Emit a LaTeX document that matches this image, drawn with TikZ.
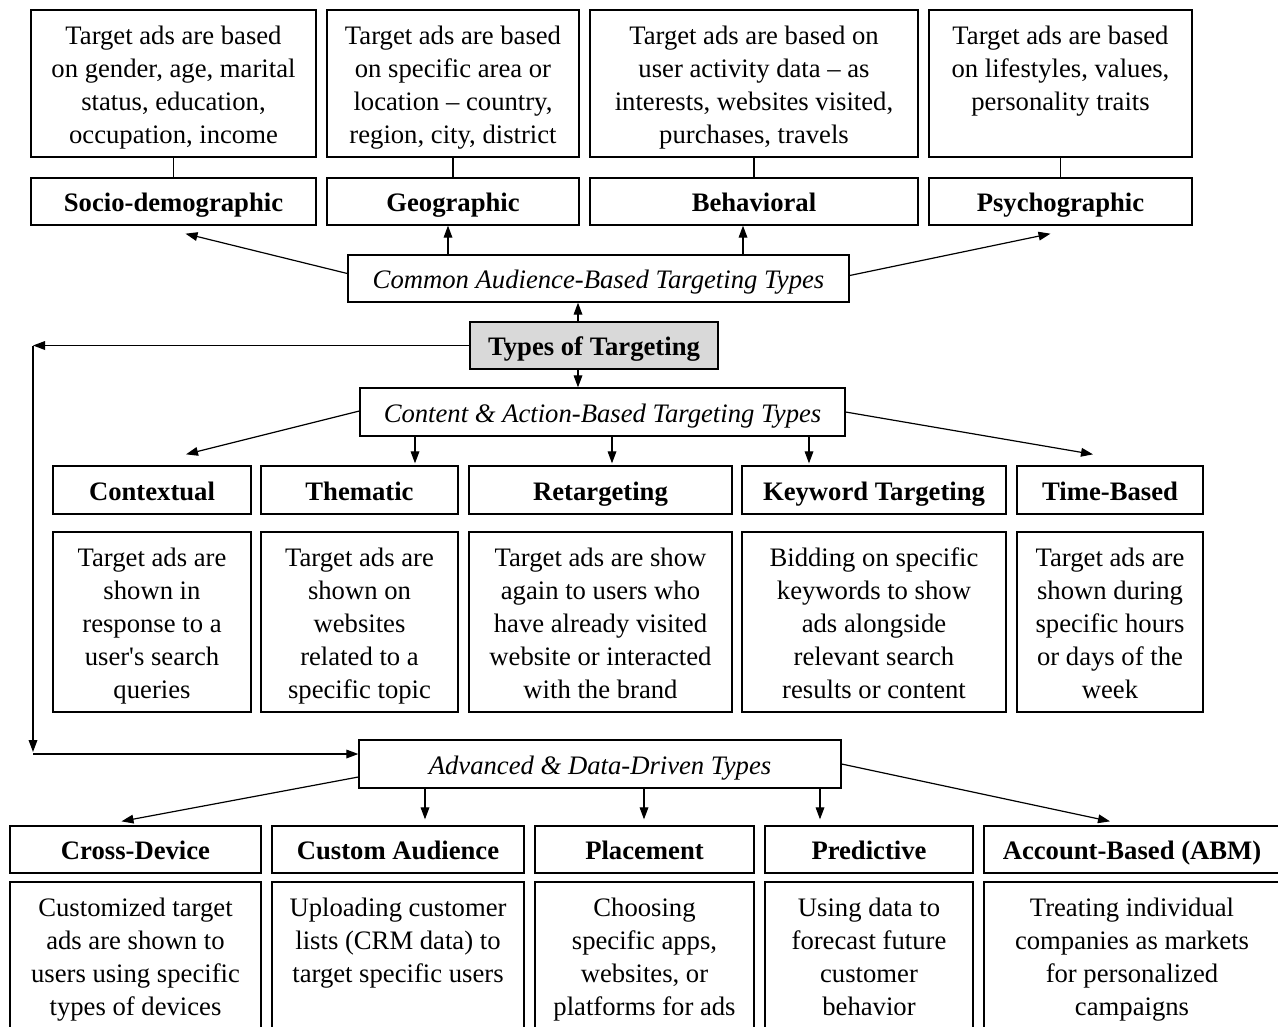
\documentclass[tikz,border=0pt]{standalone}
\usepackage{fontspec}
\setmainfont{Liberation Serif}
\usetikzlibrary{arrows.meta,calc}
\tikzset{
 base/.style={draw, line width=1pt, inner sep=0pt, font=\fontsize{20}{24.75}\selectfont},
 lblbox/.style={base, text height=16.5pt, text depth=1.5pt, font=\fontsize{20}{24.75}\selectfont\bfseries},
 hubbox/.style={base, text height=16.5pt, text depth=1.5pt, font=\fontsize{20}{24.75}\selectfont\itshape},
 rootbox/.style={base, text height=16.5pt, text depth=1.5pt, fill=black!15, font=\fontsize{20}{24.75}\selectfont\bfseries},
 descbox/.style={base},
 arr/.style={-{Triangle[length=9pt,width=6.5pt]}, line width=0.9pt},
 link/.style={line width=0.9pt},
}
\newcommand\bx[7]{%
  \pgfmathsetmacro\bcx{(#3+#5)/2}%
  \pgfmathsetmacro\bcy{(#4+#6)/2}%
  \pgfmathsetmacro\bw{(#5-#3)*0.75}%
  \pgfmathsetmacro\bh{(#6-#4)*0.75}%
  \node[#1, minimum width=\bw pt, minimum height=\bh pt] (#2) at (\bcx,\bcy) {#7};}
\newcommand\dx[6]{%
  \pgfmathsetmacro\bcx{(#2+#4)/2}%
  \pgfmathsetmacro\bcy{(#3+#5)/2}%
  \pgfmathsetmacro\bw{(#4-#2)*0.75}%
  \pgfmathsetmacro\bh{(#5-#3)*0.75}%
  \node[descbox] (#1) at (\bcx,\bcy) {\parbox[c][\bh pt][t]{\bw pt}{\centering\vspace*{8.8pt}\begin{tabular}[t]{@{}c@{}}#6\end{tabular}\par}};}
\begin{document}
\begin{tikzpicture}[x=0.75pt,y=-0.75pt]
\useasboundingbox (0,0) rectangle (1278,1026);
\clip (0,0) rectangle (1278,1026);

% top row
\dx{d1}{31}{10}{316}{157}{Target ads are based\\on gender, age, marital\\status, education,\\occupation, income}
\dx{d2}{327}{10}{579}{157}{Target ads are based\\on specific area or\\location -- country,\\region, city, district}
\dx{d3}{590}{10}{918}{157}{Target ads are based on\\user activity data -- as\\interests, websites visited,\\purchases, travels}
\dx{d4}{929}{10}{1192}{157}{Target ads are based\\on lifestyles, values,\\personality traits}
\bx{lblbox}{l1}{31}{178}{316}{225}{Socio-demographic}
\bx{lblbox}{l2}{327}{178}{579}{225}{Geographic}
\bx{lblbox}{l3}{590}{178}{918}{225}{Behavioral}
\bx{lblbox}{l4}{929}{178}{1192}{225}{Psychographic}
\foreach \i in {1,...,4}{\draw[link] (d\i.south) -- (l\i.north);}

% hubs
\bx{hubbox}{common}{348}{255}{849}{302}{Common Audience-Based Targeting Types}
\bx{rootbox}{types}{470}{322}{718}{369}{Types of Targeting}
\bx{hubbox}{content}{360}{388}{845}{436}{Content \& Action-Based Targeting Types}
\bx{hubbox}{adv}{359}{740}{841}{788}{Advanced \& Data-Driven Types}

% middle row
\bx{lblbox}{m1}{53}{466}{251}{514}{Contextual}
\bx{lblbox}{m2}{261}{466}{458}{514}{Thematic}
\bx{lblbox}{m3}{469}{466}{732}{514}{Retargeting}
\bx{lblbox}{m4}{742}{466}{1006}{514}{Keyword Targeting}
\bx{lblbox}{m5}{1017}{466}{1203}{514}{Time-Based}
\dx{e1}{53}{532}{251}{712}{Target ads are\\shown in\\response to a\\user\textquotesingle s search\\queries}
\dx{e2}{261}{532}{458}{712}{Target ads are\\shown on\\websites\\related to a\\specific topic}
\dx{e3}{469}{532}{732}{712}{Target ads are show\\again to users who\\have already visited\\website or interacted\\with the brand}
\dx{e4}{742}{532}{1006}{712}{Bidding on specific\\keywords to show\\ads alongside\\relevant search\\results or content}
\dx{e5}{1017}{532}{1203}{712}{Target ads are\\shown during\\specific hours\\or days of the\\week}

% bottom row
\bx{lblbox}{b1}{10}{826}{261}{873}{Cross-Device}
\bx{lblbox}{b2}{272}{826}{524}{873}{Custom Audience}
\bx{lblbox}{b3}{535}{826}{754}{873}{Placement}
\bx{lblbox}{b4}{765}{826}{973}{873}{Predictive}
\bx{lblbox}{b5}{984}{826}{1280}{873}{Account-Based (ABM)}
\dx{f1}{10}{882}{261}{1045}{Customized target\\ads are shown to\\users using specific\\types of devices}
\dx{f2}{272}{882}{524}{1045}{Uploading customer\\lists (CRM data) to\\target specific users}
\dx{f3}{535}{882}{754}{1045}{Choosing\\specific apps,\\websites, or\\platforms for ads}
\dx{f4}{765}{882}{973}{1045}{Using data to\\forecast future\\customer\\behavior}
\dx{f5}{984}{882}{1280}{1045}{Treating individual\\companies as markets\\for personalized\\campaigns}

% column coordinates
\coordinate (x448) at (448,0);
\coordinate (x743) at (743,0);
\coordinate (x578) at (578,0);
\coordinate (x415) at (415,0);
\coordinate (x612) at (612,0);
\coordinate (x809) at (809,0);
\coordinate (x425) at (425,0);
\coordinate (x644) at (644,0);
\coordinate (x820) at (820,0);
\coordinate (c1) at (33,345.5);
\coordinate (c2) at (33,752);
\coordinate (c3) at (33,754);

% audience arrows
\draw[arr] ($(common.west)+(0,-5)$) -- ($(l1.south)+(12,8)$);
\draw[arr] (common.north -| x448) -- (l2.south -| x448);
\draw[arr] (common.north -| x743) -- (l3.south -| x743);
\draw[arr] ($(common.east)+(0,-3)$) -- ($(l4.south)+(-10,8)$);
\draw[arr] (types.north -| x578) -- (common.south -| x578);
\draw[arr] (types.south -| x578) -- (content.north -| x578);

% side path
\draw[arr] (types.west) -- (c1);
\draw[arr] (c1) -- (c2);
\draw[arr] (c3) -- (adv.west |- c3);

% content arrows
\draw[arr] ($(content.west)+(0,-1)$) -- ($(m1.north)+(34,-11)$);
\draw[arr] (content.south -| x415) -- ($(m2.north -| x415)+(0,-2)$);
\draw[arr] (content.south -| x612) -- ($(m3.north -| x612)+(0,-2)$);
\draw[arr] (content.south -| x809) -- ($(m4.north -| x809)+(0,-2)$);
\draw[arr] (content.east) -- ($(m5.north)+(-17,-11)$);

% advanced arrows
\draw[arr] ($(adv.west)+(0,13)$) -- ($(b1.north)+(-14,-4)$);
\draw[arr] (adv.south -| x425) -- ($(b2.north -| x425)+(0,-6)$);
\draw[arr] (adv.south -| x644) -- ($(b3.north -| x644)+(0,-6)$);
\draw[arr] (adv.south -| x820) -- ($(b4.north -| x820)+(0,-6)$);
\draw[arr] (adv.east) -- ($(b5.north)+(-22,-4)$);
\end{tikzpicture}
\end{document}
